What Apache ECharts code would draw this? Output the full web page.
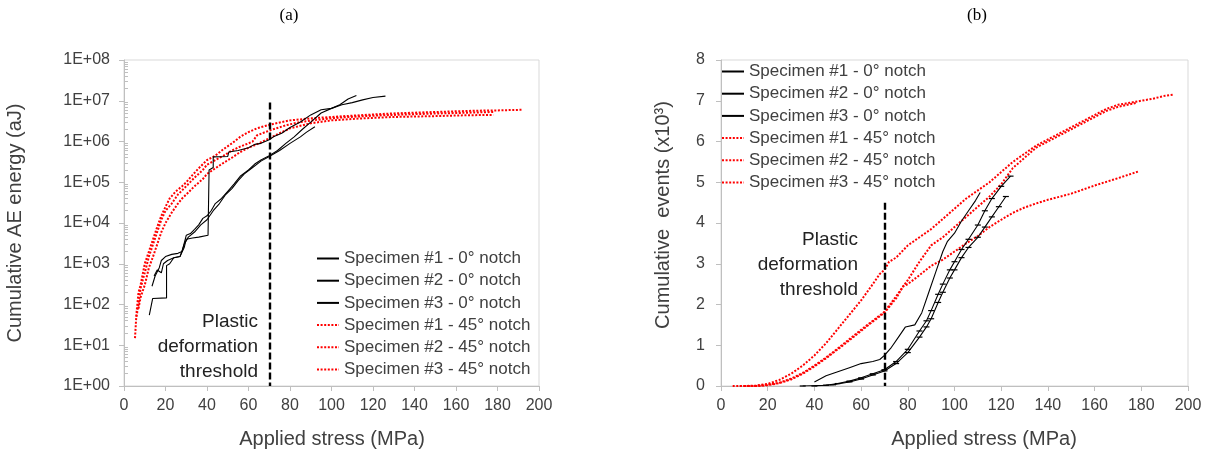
<!DOCTYPE html>
<html><head><meta charset="utf-8">
<script src="https://cdn.jsdelivr.net/npm/echarts@6/dist/echarts.min.js"></script>
<style>html,body{margin:0;padding:0;background:#fff}#c{width:1210px;height:454px}</style>
</head><body><div id="c"></div>
<script>
// ---------- names / ticks ----------
const seriesNames = [
  'Specimen #1 - 0° notch', 'Specimen #2 - 0° notch', 'Specimen #3 - 0° notch',
  'Specimen #1 - 45° notch', 'Specimen #2 - 45° notch', 'Specimen #3 - 45° notch'
];
const logTickValues = [1, 10, 100, 1e3, 1e4, 1e5, 1e6, 1e7, 1e8];
const logTickLabels = ['1E+00','1E+01','1E+02','1E+03','1E+04','1E+05','1E+06','1E+07','1E+08'];
const thresholdStress = 70;
const thresholdTopEnergy = 9e6;
const thresholdTopEvents = 4.5;

// ---------- (a) cumulative AE energy (aJ) vs stress (MPa) ----------
const energy0_1 = [[12.2,55],[13.8,140],[20.5,145],[20.5,900],[22,1000],[24,1400],[27,1500],[29,2500],[30,4000],[33,4300],[36,4500],[40.5,5000],[41,2e5],[43,2.3e5],[43,4.2e5],[50,4.3e5],[50.5,5.5e5],[55,6e5],[60,7e5],[63,8.5e5],[66,9e5],[70,1.1e6],[72,1.3e6],[76,1.6e6],[80,2.2e6],[85,3e6],[90,4.5e6],[95,6e6],[100,6.5e6],[105,8e6],[110,9e6],[115,1.05e7],[120,1.2e7],[126,1.3e7]];
const energy0_2 = [[13.5,280],[15,500],[17,800],[18,1200],[20,1500],[23,1700],[26,1800],[28,2000],[30,5000],[32,5500],[34,7000],[36,9000],[38,1.3e4],[40,1.5e4],[42,2e4],[44,3e4],[47,4e4],[50,6e4],[53,9e4],[56,1.4e5],[60,2e5],[63,2.8e5],[66,3.5e5],[70,4.5e5],[74,6e5],[78,9e5],[82,1.3e6],[86,2e6],[90,3e6],[95,5e6],[100,6.5e6],[104,8e6],[108,1.1e7],[112,1.35e7]];
const energy0_3 = [[14.5,500],[16,700],[18,600],[19,1000],[21,1200],[24,1400],[27,1500],[29,3000],[31,4500],[34,6000],[37,9000],[40,1.2e4],[43,2e4],[46,3e4],[49,5e4],[52,7e4],[55,1.1e5],[58,1.6e5],[62,2.3e5],[66,3.3e5],[70,4.3e5],[75,6e5],[80,9e5],[85,1.3e6],[88,1.7e6],[92,2.3e6]];
const energy45_1 = [[5.3,15],[6,60],[7,200],[8,300],[10,1000],[12,2000],[14,4000],[16,8000],[18,1.5e4],[20,2.5e4],[22,4e4],[25,6e4],[28,8e4],[30,1e5],[33,1.5e5],[36,2.2e5],[40,3.5e5],[44,4.5e5],[48,6.5e5],[52,9e5],[56,1.3e6],[60,1.7e6],[64,2.1e6],[68,2.4e6],[72,2.7e6],[76,3e6],[80,3.3e6],[90,3.7e6],[100,4e6],[110,4.3e6],[120,4.6e6],[130,4.9e6],[140,5.1e6],[150,5.3e6],[160,5.5e6],[170,5.7e6],[180,5.8e6],[192,6e6]];
const energy45_2 = [[6,50],[7,100],[8,250],[10,600],[12,1500],[14,3000],[16,6000],[18,1.2e4],[20,2e4],[23,3e4],[26,5e4],[30,8e4],[34,1.3e5],[38,2e5],[40,2.7e5],[44,3.5e5],[48,4.5e5],[52,6e5],[56,7.5e5],[60,9e5],[62,1e6],[64,1.4e6],[68,1.7e6],[72,2e6],[78,2.5e6],[85,3e6],[95,3.5e6],[105,3.9e6],[120,4.3e6],[140,4.7e6],[160,5e6],[178,5.3e6]];
const energy45_3 = [[7,80],[8,150],[10,300],[12,800],[14,1500],[16,3000],[18,6000],[20,1e4],[23,1.8e4],[26,3e4],[28,4e4],[30,5e4],[34,8e4],[38,1.2e5],[40,1.6e5],[44,2.2e5],[48,3e5],[52,4e5],[56,5.5e5],[60,7e5],[65,9e5],[70,1.2e6],[75,1.6e6],[80,2.1e6],[90,2.8e6],[100,3.3e6],[115,3.7e6],[130,4e6],[150,4.2e6],[165,4.4e6],[178,4.5e6]];

// ---------- (b) cumulative events (x10^3) vs stress (MPa) ----------
const events0_1 = [[40,0.1],[45,0.25],[50,0.35],[55,0.45],[60,0.55],[65,0.6],[68,0.65],[70,0.75],[73,0.95],[76,1.2],[79,1.45],[83,1.5],[86,1.8],[89,2.3],[92,2.8],[95,3.3],[97,3.55],[100,3.75],[103,4.05],[106,4.3],[109,4.55],[111,4.75]];
const events0_2 = [[35,0],[45,0.02],[50,0.06],[55,0.12],[60,0.2],[65,0.3],[70,0.4],[75,0.6],[80,0.9],[85,1.35],[88,1.6],[90,1.85],[93,2.25],[95,2.5],[98,2.85],[100,3.05],[103,3.35],[106,3.6],[110,3.95],[113,4.3],[116,4.6],[120,4.9],[124,5.15]];
const events0_3 = [[40,0],[48,0.03],[55,0.1],[60,0.17],[65,0.27],[70,0.37],[75,0.55],[80,0.82],[85,1.2],[88,1.45],[90,1.65],[93,2.05],[95,2.3],[98,2.65],[100,2.85],[103,3.15],[106,3.4],[110,3.65],[113,3.9],[116,4.15],[119,4.4],[122,4.65]];
const events45_1 = [[5,0],[10,0],[15,0.01],[20,0.05],[25,0.15],[30,0.3],[35,0.5],[40,0.75],[45,1.05],[50,1.4],[55,1.75],[60,2.1],[65,2.5],[68,2.75],[70,2.85],[72,3.05],[75,3.15],[80,3.45],[85,3.65],[90,3.85],[95,4.1],[100,4.35],[105,4.6],[110,4.8],[115,5.0],[120,5.25],[125,5.5],[130,5.7],[135,5.9],[140,6.05],[145,6.2],[150,6.35],[155,6.5],[160,6.65],[165,6.8],[170,6.9],[175,6.95],[180,7.0],[185,7.05],[190,7.12],[194,7.15]];
const events45_2 = [[8,0],[15,0],[20,0.03],[25,0.08],[30,0.18],[35,0.32],[40,0.5],[45,0.7],[50,0.92],[55,1.15],[60,1.38],[65,1.6],[70,1.82],[75,2.2],[80,2.6],[85,3.05],[90,3.45],[95,3.65],[100,3.9],[105,4.15],[110,4.4],[115,4.65],[120,4.95],[125,5.35],[130,5.6],[135,5.85],[140,6.0],[145,6.15],[150,6.3],[155,6.45],[160,6.6],[165,6.75],[170,6.85],[178,6.95]];
const events45_3 = [[10,0],[16,0],[20,0.02],[25,0.07],[30,0.16],[35,0.3],[40,0.48],[45,0.68],[50,0.9],[55,1.12],[60,1.35],[65,1.58],[70,1.8],[75,2.15],[78,2.45],[80,2.5],[85,2.72],[90,2.95],[95,3.1],[100,3.3],[105,3.5],[110,3.68],[115,3.9],[120,4.08],[125,4.25],[130,4.38],[135,4.48],[140,4.57],[150,4.72],[160,4.92],[170,5.1],[179,5.27]];

const energyData = [energy0_1, energy0_2, energy0_3, energy45_1, energy45_2, energy45_3];
const eventsData = [events0_1, events0_2, events0_3, events45_1, events45_2, events45_3];

// ---------- styles ----------
const FONT = 'Liberation Sans, Arial, sans-serif';
const axisGray = '#bfbfbf';
const labelColor = '#404040';
const minorLogTicks = [];
for (let k = 0; k < 8; k++) for (let m = 2; m <= 9; m++) minorLogTicks.push(m * Math.pow(10, k));

function lineStyleFor(i) {
  return i < 3
    ? { color: '#000', width: 1.1, type: 'solid' }
    : { color: '#ff0000', width: 2, type: [2, 1.6] };
}

function makeSeries(data, xi, yi, topVal, bottomVal, tickMarks) {
  return data.map((d, i) => {
    const marks = tickMarks && (i === 1 || i === 2);
    const s = {
      name: seriesNames[i], type: 'line', xAxisIndex: xi, yAxisIndex: yi,
      data: d, smooth: false,
      showSymbol: marks, symbol: marks ? 'rect' : 'none', symbolSize: [6, 1.2],
      lineStyle: lineStyleFor(i), itemStyle: { color: lineStyleFor(i).color },
      z: i < 3 ? 3 : 2, silent: true
    };
    if (i === 0) {
      s.markLine = {
        silent: true, symbol: ['none', 'none'], label: { show: false },
        lineStyle: { color: '#000', width: 2.4, type: [7, 3] },
        data: [[{ coord: [thresholdStress, topVal] }, { coord: [thresholdStress, bottomVal] }]]
      };
    }
    return s;
  });
}

const xAxisCommon = (gi) => ({
  type: 'value', gridIndex: gi, min: 0, max: 200, interval: 20,
  axisLine: { show: true, lineStyle: { color: axisGray, width: 1 } },
  axisTick: { show: true, inside: false, length: 5, lineStyle: { color: axisGray } },
  axisLabel: { color: labelColor, fontSize: 16, fontFamily: FONT, margin: 12 },
  splitLine: { show: false }
});

const legendCommon = (left, top) => ({
  show: true, orient: 'vertical', left: left, top: top, padding: 0,
  data: seriesNames, itemWidth: 22, itemHeight: 10, itemGap: 5.2,
  itemStyle: { opacity: 0, borderWidth: 0 },
  textStyle: { color: labelColor, fontSize: 17, fontFamily: FONT },
  selectedMode: false
});

const chart = echarts.init(document.getElementById('c'), null, { renderer: 'canvas' });
chart.setOption({
  animation: false,
  backgroundColor: '#fff',
  grid: [
    { left: 124, top: 60, width: 415, height: 326, show: true, borderColor: '#d9d9d9', borderWidth: 1, containLabel: false },
    { left: 721, top: 60, width: 467, height: 326, show: true, borderColor: '#d9d9d9', borderWidth: 1, containLabel: false }
  ],
  xAxis: [xAxisCommon(0), xAxisCommon(1)],
  yAxis: [
    {
      type: 'log', gridIndex: 0, min: 1, max: 1e8, logBase: 10,
      axisLine: { show: true, lineStyle: { color: axisGray } },
      axisTick: { show: true, inside: false, length: 5, lineStyle: { color: axisGray }, customValues: logTickValues },
      axisLabel: {
        color: labelColor, fontSize: 16, fontFamily: FONT, margin: 14,
        customValues: logTickValues,
        formatter: (v) => logTickLabels[logTickValues.findIndex(t => Math.abs(t - v) / t < 1e-6)]
      },
      splitLine: { show: false }
    },
    {
      type: 'log', gridIndex: 0, min: 1, max: 1e8, logBase: 10, position: 'left',
      axisLine: { show: false },
      axisTick: { show: true, inside: true, length: 4, lineStyle: { color: axisGray }, customValues: minorLogTicks },
      axisLabel: { show: false },
      splitLine: { show: false }
    },
    {
      type: 'value', gridIndex: 1, min: 0, max: 8, interval: 1,
      axisLine: { show: true, lineStyle: { color: axisGray } },
      axisTick: { show: true, inside: false, length: 5, lineStyle: { color: axisGray } },
      axisLabel: { color: labelColor, fontSize: 16, fontFamily: FONT, margin: 16 },
      splitLine: { show: false }
    }
  ],
  legend: [legendCommon(316, 250), legendCommon(721, 63)],
  series: [
    ...makeSeries(energyData, 0, 0, thresholdTopEnergy, 1, false),
    ...makeSeries(eventsData, 1, 2, thresholdTopEvents, 0, true)
  ],
  graphic: [
    { type: 'text', x: 289, y: 16, style: { text: '(a)', font: '17px "Liberation Serif", "Times New Roman", serif', fill: '#000', textAlign: 'center', textVerticalAlign: 'middle', verticalAlign: 'middle' } },
    { type: 'text', x: 977, y: 16, style: { text: '(b)', font: '17px "Liberation Serif", "Times New Roman", serif', fill: '#000', textAlign: 'center', textVerticalAlign: 'middle', verticalAlign: 'middle' } },
    { type: 'text', x: 332, y: 439, style: { text: 'Applied stress (MPa)', font: '20px ' + FONT, fill: labelColor, textAlign: 'center', textVerticalAlign: 'middle', verticalAlign: 'middle' } },
    { type: 'text', x: 984, y: 439, style: { text: 'Applied stress (MPa)', font: '20px ' + FONT, fill: labelColor, textAlign: 'center', textVerticalAlign: 'middle', verticalAlign: 'middle' } },
    { type: 'text', x: 15, y: 223, rotation: Math.PI / 2, style: { text: 'Cumulative AE energy (aJ)', font: '20px ' + FONT, fill: labelColor, textAlign: 'center', textVerticalAlign: 'middle', verticalAlign: 'middle' } },
    { type: 'text', x: 663, y: 215, rotation: Math.PI / 2, style: { text: 'Cumulative  events (x10³)', font: '20px ' + FONT, fill: labelColor, textAlign: 'center', textVerticalAlign: 'middle', verticalAlign: 'middle' } },
    { type: 'text', x: 258, y: 347, style: { text: 'Plastic\ndeformation\nthreshold', font: '19px ' + FONT, lineHeight: 25, fill: '#222', textAlign: 'right', textVerticalAlign: 'middle', verticalAlign: 'middle' } },
    { type: 'text', x: 858, y: 265, style: { text: 'Plastic\ndeformation\nthreshold', font: '19px ' + FONT, lineHeight: 25, fill: '#222', textAlign: 'right', textVerticalAlign: 'middle', verticalAlign: 'middle' } }
  ]
});
</script>
</body></html>
